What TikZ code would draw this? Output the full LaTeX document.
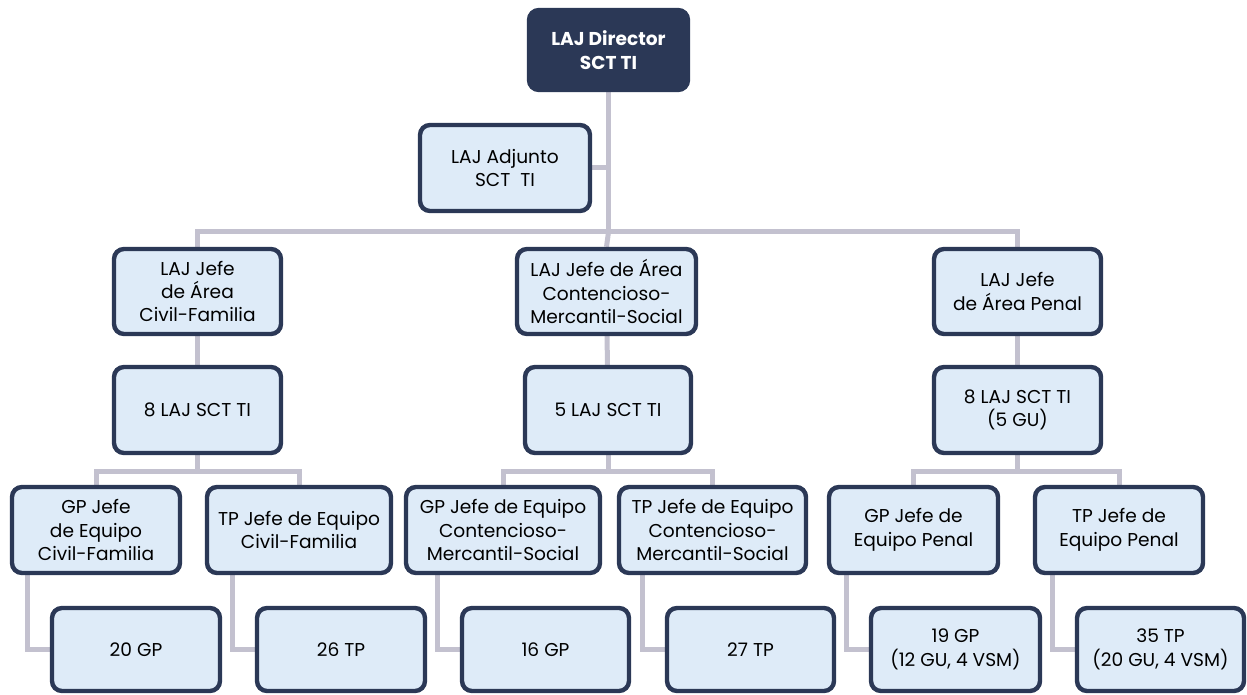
\documentclass[tikz,border=0pt]{standalone}
\usepackage{fontspec}
\setmainfont{Poppins}
\usepackage{xcolor}
\usetikzlibrary{positioning,calc,backgrounds}

\definecolor{navy}{HTML}{2B3856}
\definecolor{paleblue}{HTML}{DEEBF8}
\definecolor{linkgray}{HTML}{C3C1CF}

\tikzset{
  box/.style={draw=navy, line width=2.2pt, fill=paleblue, rounded corners=5pt,
              align=center, inner sep=1pt, text=black,
              font=\fontsize{9.3}{11.7}\selectfont},
  topbox/.style={box, fill=navy, text=white, font=\fontsize{9.3}{11.7}\selectfont\bfseries},
  wd/.style={minimum width=#1*0.5pt},
  ht/.style={minimum height=#1*0.5pt},
  link/.style={draw=linkgray, line width=2.5pt}
}

\begin{document}
\begin{tikzpicture}[x=0.5pt, y=-0.5pt]
    \useasboundingbox (0,0) rectangle (1247,695);

    % Junctions of the connectors
    \coordinate (top) at (608.5,232);
    \coordinate (civbar) at (197.5,471);
    \coordinate (conbar) at (608,471);
    \coordinate (penbar) at (1017.5,471);

    % Top levels
    \node[topbox, wd=159, ht=80] (dir) at (608.5,50) {LAJ Director\\SCT TI};
    \node[box, wd=170, ht=86] (adj) at (505,168) {LAJ Adjunto\\SCT\ \ TI};

    % Areas
    \node[box, wd=167, ht=85] (civ) at (197.5,291.5) {LAJ Jefe\\de Área\\Civil-Familia};
    \node[box, wd=179, ht=85] (con) at (606.5,291.5) {LAJ Jefe de Área\\Contencioso-\\Mercantil-Social};
    \node[box, wd=167, ht=85] (pen) at (1017.5,291.5) {LAJ Jefe\\de Área Penal};

    \node[box, wd=167, ht=86] (civlaj) at (197.5,410) {8 LAJ SCT TI};
    \node[box, wd=166, ht=86] (conlaj) at (608,410) {5 LAJ SCT TI};
    \node[box, wd=167, ht=86] (penlaj) at (1017.5,410) {8 LAJ SCT TI\\(5 GU)};

    % Team leaders
    \node[box, wd=168, ht=86] (gpciv) at (96,530) {GP Jefe\\de Equipo\\Civil-Familia};
    \node[box, wd=184, ht=86] (tpciv) at (299,530) {TP Jefe de Equipo\\Civil-Familia};
    \node[box, wd=194, ht=86] (gpcon) at (503,530) {GP Jefe de Equipo\\Contencioso-\\Mercantil-Social};
    \node[box, wd=187, ht=86] (tpcon) at (712.5,530) {TP Jefe de Equipo\\Contencioso-\\Mercantil-Social};
    \node[box, wd=169, ht=86] (gppen) at (913.5,530) {GP Jefe de\\Equipo Penal};
    \node[box, wd=168, ht=86] (tppen) at (1119,530) {TP Jefe de\\Equipo Penal};

    % Staff
    \node[box, wd=168, ht=83] (gpcivn) at (136,649.5) {20 GP};
    \node[box, wd=168, ht=83] (tpcivn) at (341,649.5) {26 TP};
    \node[box, wd=167, ht=83] (gpconn) at (545.5,649.5) {16 GP};
    \node[box, wd=167, ht=83] (tpconn) at (750.5,649.5) {27 TP};
    \node[box, wd=169, ht=83] (gppenn) at (955.5,649.5) {19 GP\\(12 GU, 4 VSM)};
    \node[box, wd=167, ht=83] (tppenn) at (1160.5,649.5) {35 TP\\(20 GU, 4 VSM)};

    % Connectors
    \begin{scope}[on background layer]
        \draw[link] (dir) -- (top);
        \draw[link] (adj.east) -- (adj.east -| top);
        \draw[link] (civ.north) |- (top) -| (pen.north);
        \draw[link] (top) -- (con.north);
        \foreach \up/\down in {civ/civlaj, con/conlaj, pen/penlaj}
            \draw[link] (\up) -- (\down);
        \foreach \lead/\bar/\left/\right in {civlaj/civbar/gpciv/tpciv,
                                             conlaj/conbar/gpcon/tpcon,
                                             penlaj/penbar/gppen/tppen} {
            \draw[link] (\lead) -- (\bar);
            \draw[link] (\left.north) |- (\bar) -| (\right.north);
        }
        \foreach \lead/\team in {gpciv/gpcivn, tpciv/tpcivn, gpcon/gpconn,
                                 tpcon/tpconn, gppen/gppenn, tppen/tppenn}
            \draw[link] (\team.west) -- ++(-22,0) coordinate (t) -- (t |- \lead.south);
    \end{scope}
\end{tikzpicture}
\end{document}
